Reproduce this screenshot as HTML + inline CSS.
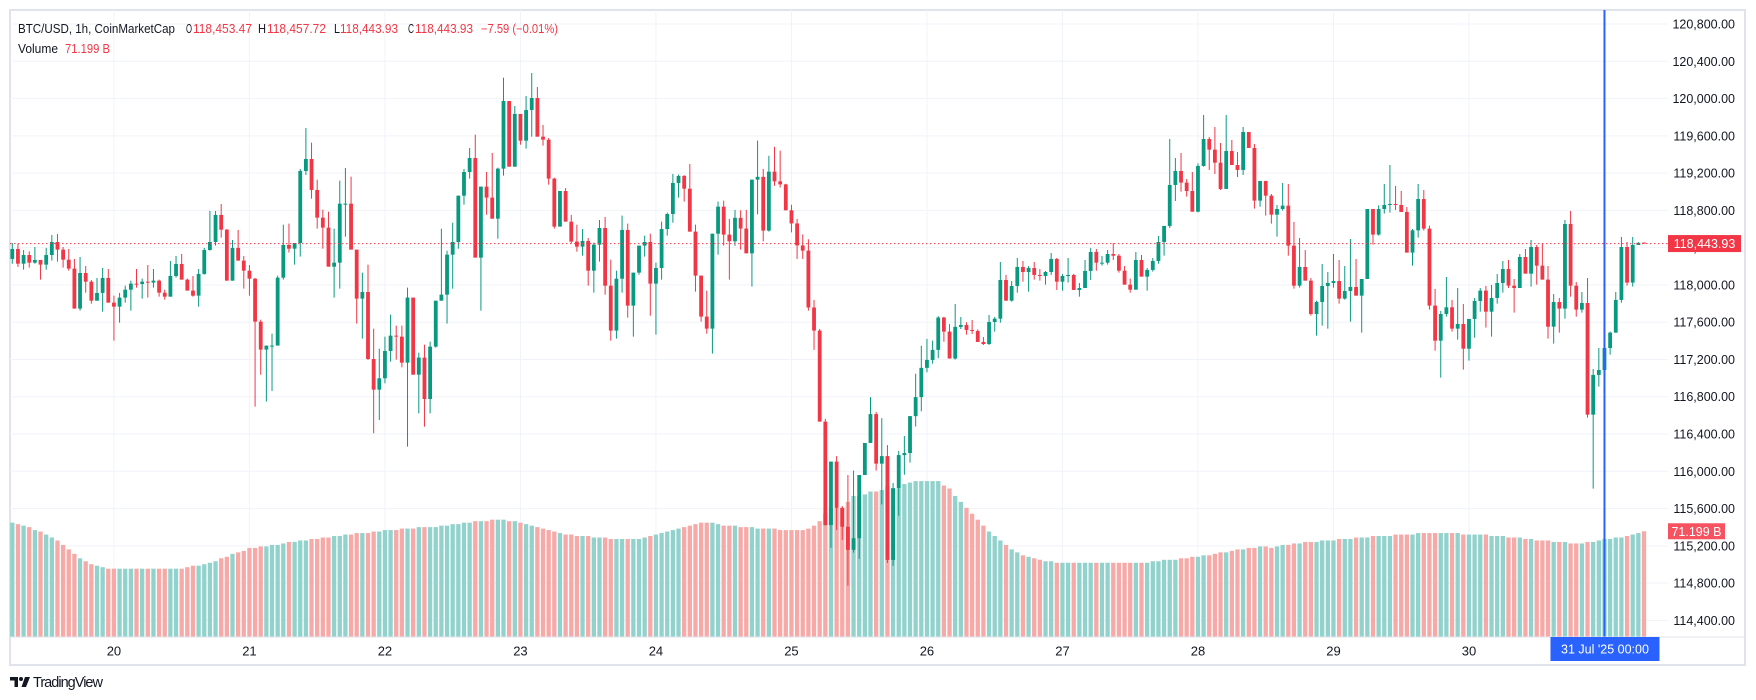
<!DOCTYPE html>
<html><head><meta charset="utf-8"><title>BTC/USD 1h</title>
<style>
html,body{margin:0;padding:0;background:#fff;}
svg{display:block;font-family:"Liberation Sans",Arial,sans-serif;}
</style></head>
<body>
<svg id="chart" width="1756" height="700" viewBox="0 0 1756 700" xmlns="http://www.w3.org/2000/svg">
<rect x="0" y="0" width="1756" height="700" fill="#ffffff"/>
<rect x="10" y="10" width="1735" height="655" fill="#ffffff" stroke="#e0e3eb" stroke-width="2"/>
<g id="grid"></g>
<g id="vol"></g>
<g id="candles"></g>
<g id="overlay"></g>
<g id="axes"></g>
<g font-size="12.5" fill="#131722">
  <text x="18" y="33" textLength="157" lengthAdjust="spacingAndGlyphs">BTC/USD, 1h, CoinMarketCap</text>
  <text x="186" y="33" textLength="6" lengthAdjust="spacingAndGlyphs">O</text>
  <text x="193" y="33" fill="#f23645" textLength="59" lengthAdjust="spacingAndGlyphs">118,453.47</text>
  <text x="258" y="33" textLength="8" lengthAdjust="spacingAndGlyphs">H</text>
  <text x="267" y="33" fill="#f23645" textLength="59" lengthAdjust="spacingAndGlyphs">118,457.72</text>
  <text x="334" y="33" textLength="6" lengthAdjust="spacingAndGlyphs">L</text>
  <text x="340" y="33" fill="#f23645" textLength="58" lengthAdjust="spacingAndGlyphs">118,443.93</text>
  <text x="408" y="33" textLength="6" lengthAdjust="spacingAndGlyphs">C</text>
  <text x="415" y="33" fill="#f23645" textLength="58" lengthAdjust="spacingAndGlyphs">118,443.93</text>
  <text x="481" y="33" fill="#f23645" textLength="77" lengthAdjust="spacingAndGlyphs">−7.59 (−0.01%)</text>
  <text x="18" y="53" textLength="40" lengthAdjust="spacingAndGlyphs">Volume</text>
  <text x="65" y="53" fill="#f23645" textLength="45" lengthAdjust="spacingAndGlyphs">71.199 B</text>
</g>
<g>
  <rect x="10" y="677" width="8" height="3.5" fill="#131722"/>
  <rect x="14.5" y="677" width="3.5" height="10" fill="#131722"/>
  <circle cx="21" cy="679" r="2" fill="#131722"/>
  <polygon points="25,677 30,677 26,687 21.5,687" fill="#131722"/>
  <text x="33" y="687" font-size="14.5" fill="#131722" textLength="70">TradingView</text>
</g>
</svg>
<script>
const closes = [
118386,118228,118321,118239,118268,118218,118321,118461,118379,118271,
118175,117746,118128,118035,117831,117914,118075,117810,117767,117864,
117949,118014,118010,118035,118025,118046,117917,117874,118096,118225,
118057,117939,117885,118118,118375,118461,118751,118593,118046,118397,
118261,118153,118067,117606,117306,117349,117349,118078,118429,118389,
118450,119223,119352,119019,118722,118615,118196,118239,118872,118872,
118379,117853,117924,117205,116876,116998,117291,117456,117445,117166,
117864,117037,117220,116776,117338,117831,117896,118325,118461,118958,
119212,119362,118293,119055,118937,118711,119248,119974,119269,119835,
119548,119877,120006,119591,119559,119141,118626,119008,118679,118465,
118411,118472,118153,118432,118611,117992,117510,118067,118590,117778,
118132,118422,118461,118014,118182,118600,118761,119094,119169,119033,
118572,118100,117660,117531,118550,118840,118540,118468,118720,118605,
118339,119130,119160,118583,119216,119112,119079,118801,118660,118424,
118368,117758,117510,116533,115423,116104,115608,115405,115157,115282,
115960,116304,116614,116082,116163,115049,115819,116174,116196,116592,
116796,117110,117195,117303,117650,117499,117210,117550,117570,117517,
117506,117388,117366,117602,117638,118053,117831,117989,118193,118139,
118182,118107,118096,118139,118279,118035,118096,118107,117946,117967,
118150,118354,118239,118239,118332,118314,118153,118003,117949,118268,
118089,118161,118257,118461,118633,119073,119223,119098,119008,118786,
119277,119566,119452,119312,119030,119437,119287,119234,119641,119470,
118905,119116,118958,118754,118815,118851,118422,117992,118193,118046,
117688,117817,117989,118021,118042,117853,117935,117978,117885,118064,
118815,118540,118815,118858,118869,118858,118783,118347,118586,118922,
118604,117778,117402,117688,117760,117531,117581,117316,117635,117828,
117939,117713,117860,118021,118171,117992,117967,118300,118121,118407,
118207,118057,117552,117817,117746,118654,117992,117735,117806,116608,
117034,117087,117323,117488,117839,118407,118025,118429,118452,118443.93];
const highs = [
118450,118443,118375,118361,118407,118257,118397,118536,118547,118407,
118386,118279,118300,118203,118053,118075,118182,118171,117885,117914,
117992,118046,118171,118068,118214,118171,118057,117949,118257,118311,
118332,118068,118096,118171,118397,118794,118794,118869,118600,118482,
118590,118311,118214,118075,117627,117349,117477,118100,118647,118658,
118450,119244,119684,119527,119130,118808,118786,118604,119119,119255,
119162,118368,118132,118218,117531,117316,117445,117681,117563,117563,
117971,117853,117273,117359,117391,117831,118604,118368,118668,118958,
119244,119470,119613,119055,119212,119416,119259,120224,119974,119920,
119548,120028,120274,120124,119717,119577,119151,119008,119040,118751,
118647,118600,118504,118454,118697,118729,118271,118153,118744,118658,
118132,118422,118529,118550,118239,118679,118776,119191,119184,119180,
119298,118647,118078,117939,118550,118894,118905,118709,118805,118801,
118805,119130,119549,119245,119386,119482,119441,119086,118860,118709,
118542,118490,117839,117528,116563,116104,116163,115627,115960,116008,
115960,116304,116796,116637,116570,116281,115874,116219,116378,116592,
117047,117347,117421,117403,117665,117658,117580,117795,117656,117599,
117624,117524,117442,117678,117656,118246,118107,118042,118289,118257,
118203,118246,118171,118150,118343,118289,118118,118289,118118,118021,
118268,118397,118386,118311,118375,118450,118332,118203,118068,118354,
118321,118182,118289,118525,118633,119566,119362,119416,119137,119212,
119305,119824,119588,119695,119523,119824,119556,119427,119695,119631,
119513,119116,119116,118976,118858,119094,119083,118676,118504,118375,
118075,117831,118225,118139,118332,118268,118203,118493,118279,118064,
118815,118815,118854,119083,119287,119062,119008,118837,118600,119083,
119019,118636,117957,117721,118085,117839,117967,117796,117635,117860,
117967,117989,117999,118118,118257,118268,118064,118332,118386,118482,
118429,118450,118203,117903,117860,118697,118794,118032,117924,118075,
117098,117323,117338,117499,117924,118515,118461,118515,118460,118457.72];
const lows = [
118228,118193,118164,118186,118228,118057,118164,118261,118250,118186,
118153,117746,117724,117917,117799,117831,117713,117810,117402,117595,
117810,117724,117971,117853,117864,117971,117874,117842,117874,118078,
118057,117939,117874,117767,118110,118368,118422,118508,118046,118068,
118261,117960,117885,116694,117037,116748,116862,117349,118057,118347,
118218,118304,119180,118926,118604,118389,118196,117864,117960,118518,
118379,117585,117424,117195,116408,116551,116944,117177,117198,117116,
116265,117037,116622,116479,116622,117327,117896,117585,117960,118389,
118862,119141,118293,117724,118754,118711,118497,119173,119269,119269,
119505,119463,119591,119591,119495,119076,118604,118626,118679,118443,
118357,118314,117992,117917,118250,117896,117402,117424,117917,117649,
117445,118110,118304,117670,117467,118057,118529,118668,118937,118894,
118572,117928,117606,117477,117263,118325,118422,118057,118420,118379,
118339,117983,118757,118468,118572,119064,119045,118801,118564,118279,
118279,117724,117303,116533,115416,115179,115371,115264,114772,115127,
115060,115960,116304,116008,115645,115016,114986,115523,115963,116093,
116481,116644,117062,117155,117214,117391,117210,117199,117527,117467,
117474,117388,117356,117356,117499,117595,117831,117821,117917,118035,
117928,118057,118046,118003,118107,117946,117939,118025,117946,117874,
117967,118053,118153,118207,118218,118268,118132,118003,117917,117971,
118089,117939,118143,118228,118314,118611,118901,119001,118948,118786,
118779,119269,119234,119191,119019,119030,119287,119158,119180,119470,
118819,118840,118744,118658,118518,118797,118314,117960,117971,118046,
117671,117456,117563,117531,117971,117799,117842,117606,117885,117488,
118064,118432,118529,118765,118776,118804,118783,118347,118207,118508,
118583,117735,117295,117005,117660,117499,117413,117091,117188,117434,
117713,117542,117445,117799,117917,117967,117703,117967,118121,117982,
118003,118057,117424,117370,117488,117638,117874,117660,117703,116576,
115814,116909,116952,117252,117488,117810,117992,117982,118440,118443.93];
const volumesB = [
77,76,75,74,72,71,69,67,65,62,
59,56,53,51,49,48,47,46,46,46,
46,46,46,46,46,46,46,46,46,46,
46,47,48,48,49,50,51,53,54,56,
57,58,60,60,61,61,62,62,63,64,
64,65,65,66,66,67,67,68,68,69,
69,70,70,70,71,71,72,72,72,73,
73,73,74,74,74,74,75,75,76,76,
77,77,78,78,78,79,79,79,78,78,
77,76,75,74,73,72,71,70,69,69,
68,68,68,67,67,67,66,66,66,66,
66,66,67,68,69,70,71,72,73,74,
75,76,77,77,77,76,75,75,75,74,
74,74,73,73,73,73,72,72,72,72,
72,73,75,78,83,87,87,87,91,95,
95,96,98,98,99,102,100,100,103,104,
105,105,105,105,105,102,100,95,91,87,
83,79,75,71,68,65,62,59,57,55,
54,53,52,51,51,50,50,50,50,50,
50,50,50,50,50,50,50,50,50,50,
50,50,51,51,52,52,52,53,53,54,
54,55,55,56,57,57,58,59,59,60,
60,61,61,60,61,62,62,63,63,64,
64,64,65,65,65,66,66,66,67,67,
67,68,68,68,68,69,69,69,69,70,
70,70,70,70,70,70,70,69,69,69,
69,69,68,68,68,67,67,67,66,66,
65,65,65,64,64,64,63,63,63,64,
64,65,66,66,67,67,68,69,70,71.199];
const firstOpen = 118279;
const priceTicks = [120800,120400,120000,119600,119200,118800,118400,118000,117600,117200,116800,116400,116000,115600,115200,114800,114400];
const dayLabels = ["20","21","22","23","24","25","26","27","28","29","30"];
const startHourOffset = 18;
const lastPrice = 118443.93;
const lastPriceLabel = "118,443.93";
const lastVolumeLabel = "71.199 B";
const crosshairIndex = 282;

const NS = "http://www.w3.org/2000/svg";
const PL = 10, PR = 1668, PT = 10, PB = 637;
const X0 = 12.3, DX = 5.646;
function xOf(i){ return X0 + i*DX; }
function yOf(p){ return 61.3 + (120400 - p)*0.09318; }
function vh(v){ return v*1.485; }
function mk(tag, attrs, parent){
  const e = document.createElementNS(NS, tag);
  for (const k in attrs) e.setAttribute(k, attrs[k]);
  parent.appendChild(e);
  return e;
}
const G = document.getElementById('grid');
const V = document.getElementById('vol');
const C = document.getElementById('candles');
const O = document.getElementById('overlay');
const A = document.getElementById('axes');

priceTicks.forEach(p => {
  const l = mk('line', {x1:PL, x2:PR, y1:yOf(p), y2:yOf(p), stroke:'#f0f3fa', 'stroke-width':1}, G);
  
  
});
for (let d = 0; d <= dayLabels.length; d++){
  const x = xOf(startHourOffset + d*24);
  const l = mk('line', {x1:x, x2:x, y1:PT, y2:PB, stroke:'#f0f3fa', 'stroke-width':1}, G);
  
  
}

const defs = mk('defs', {}, document.getElementById('chart'));
const cp = mk('clipPath', {id:'plotclip'}, defs);
mk('rect', {x:PL, y:PT, width:PR-PL, height:PB-PT}, cp);
V.setAttribute('clip-path', 'url(#plotclip)');
C.setAttribute('clip-path', 'url(#plotclip)');

const n = closes.length;
for (let i = 0; i < n; i++){
  const o = i === 0 ? firstOpen : (i === n-1 ? 118453.47 : closes[i-1]);
  const c = closes[i];
  const h = Math.max(highs[i], o, c), l = Math.min(lows[i], o, c);
  const up = c >= o;
  const col = up ? '#089981' : '#f23645';
  const x = xOf(i);
  const v = volumesB[i] !== undefined ? volumesB[i] : volumesB[volumesB.length-1];
  const vb = mk('rect', {x:x-2.15, y:PB - vh(v), width:4.3, height:vh(v), fill: up ? '#92d2cc' : '#f7a9a7'}, V);
  
  
  const g = mk('g', {}, C);
  
  
  mk('line', {x1:x, x2:x, y1:yOf(h), y2:yOf(l), stroke:col, 'stroke-width':1}, g);
  const yt = yOf(Math.max(o,c)), yb = yOf(Math.min(o,c));
  mk('rect', {x:x-1.9, y:yt, width:3.8, height:Math.max(1, yb-yt), fill:col}, g);
}

const ly = yOf(lastPrice);
const dl = mk('line', {x1:PL, x2:PR, y1:ly, y2:ly, stroke:'#f23645', 'stroke-width':1, 'stroke-dasharray':'1.5 2.5'}, O);



const cx = xOf(crosshairIndex);
const vl = mk('line', {x1:cx, x2:cx, y1:PT, y2:PB, stroke:'#2962ff', 'stroke-width':2}, O);



const tb = mk('line', {x1:PL, x2:1745, y1:PB, y2:PB, stroke:'#e0e3eb', 'stroke-width':1}, A);



priceTicks.forEach(p => {
  const t = mk('text', {x:1735, y:yOf(p)+4.5, 'text-anchor':'end', 'font-size':12.5, fill:'#131722'}, A);
  t.textContent = p.toLocaleString('en-US', {minimumFractionDigits:2, maximumFractionDigits:2});
  
  
});

const pr = mk('rect', {x:1668, y:ly-8.5, width:73, height:17, fill:'#f23645'}, A);


const pt = mk('text', {x:1704.5, y:ly+4.5, 'text-anchor':'middle', 'font-size':12.5, fill:'#ffffff'}, A);
pt.textContent = lastPriceLabel;



const lastV = volumesB[volumesB.length-1];
const vy = PB - vh(lastV);
const vr = mk('rect', {x:1668, y:vy-8, width:57, height:16, fill:'#f7525f'}, A);


const vt = mk('text', {x:1696.5, y:vy+4.5, 'text-anchor':'middle', 'font-size':12.5, fill:'#ffffff'}, A);
vt.textContent = lastVolumeLabel;



dayLabels.forEach((d, k) => {
  const t = mk('text', {x:xOf(startHourOffset + k*24), y:655.5, 'text-anchor':'middle', 'font-size':13, fill:'#131722'}, A);
  t.textContent = d;
  
  
});

const dr = mk('rect', {x:cx-54, y:PB, width:109, height:24, fill:'#2962ff'}, A);


const dt = mk('text', {x:cx+0.5, y:PB+16.5, 'text-anchor':'middle', 'font-size':12.5, fill:'#ffffff', 'xml:space':'preserve'}, A);
dt.textContent = "31 Jul '25   00:00";


</script>
</body></html>
